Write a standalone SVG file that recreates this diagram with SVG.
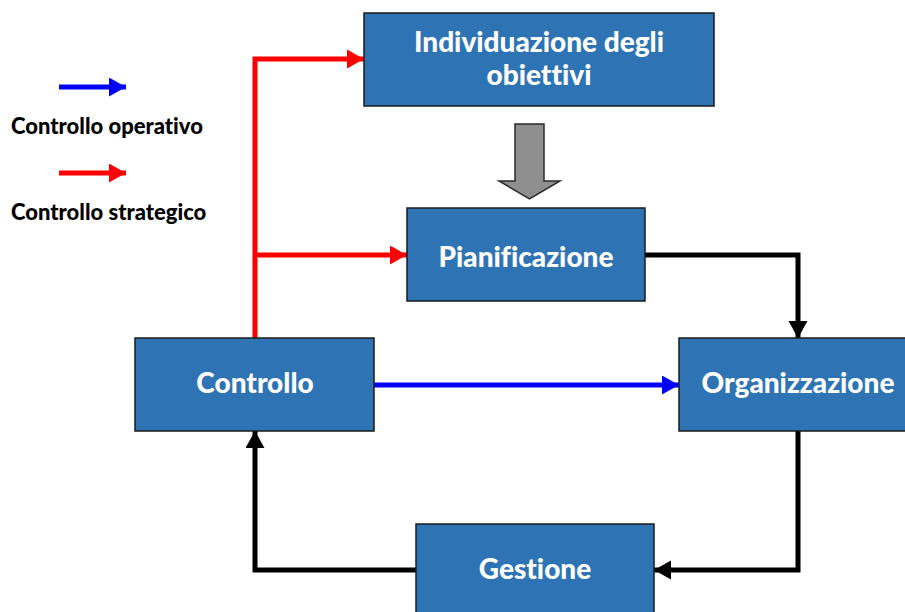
<svg xmlns="http://www.w3.org/2000/svg" width="905" height="612" viewBox="0 0 905 612">
<defs>
<style>
.box{fill:#2E74B5;stroke:#1b1b1b;stroke-width:1.5}
.lbl{font-family:Lato,"Open Sans","DejaVu Sans",sans-serif;font-weight:900;fill:#ffffff;text-anchor:middle;font-variant-ligatures:none;font-size:28px}
.leg{font-family:Lato,"Open Sans","DejaVu Sans",sans-serif;font-weight:900;fill:#000000;font-size:22px;font-variant-ligatures:none}
.red{stroke:#ff0000;stroke-width:5;fill:none}
.blue{stroke:#0000ff;stroke-width:5;fill:none}
.black{stroke:#000000;stroke-width:5;fill:none}
</style>
<marker id="hr" markerUnits="userSpaceOnUse" markerWidth="18" markerHeight="20" refX="17" refY="9.5" orient="auto"><path d="M0,0 L17,9.5 L0,19 Z" fill="#ff0000"/></marker>
<marker id="hb" markerUnits="userSpaceOnUse" markerWidth="18" markerHeight="20" refX="17" refY="9.5" orient="auto"><path d="M0,0 L17,9.5 L0,19 Z" fill="#0000ff"/></marker>
<marker id="hk" markerUnits="userSpaceOnUse" markerWidth="18" markerHeight="20" refX="17" refY="9.5" orient="auto"><path d="M0,0 L17,9.5 L0,19 Z" fill="#000000"/></marker>
</defs>
<rect width="905" height="612" fill="#ffffff"/>
<g id="legend">
<path class="blue" d="M59,87 H126" marker-end="url(#hb)"/>
<text class="leg" x="11" y="134">Controllo operativo</text>
<path class="red" d="M59,173 H126" marker-end="url(#hr)"/>
<text class="leg" x="11" y="220">Controllo strategico</text>
</g>
<g id="connectors">
<path class="red" d="M255,338 V59 H364" marker-end="url(#hr)"/>
<path class="red" d="M255,255 H407" marker-end="url(#hr)"/>
<path class="blue" d="M374,385 H679" marker-end="url(#hb)"/>
<path class="black" d="M645,255 H798 V338" marker-end="url(#hk)"/>
<path class="black" d="M798,431 V570 H654" marker-end="url(#hk)"/>
<path class="black" d="M416,570 H255 V431" marker-end="url(#hk)"/>
<path d="M515,124 H544 V181 H560 L529.5,199 L499,181 H515 Z" fill="#8f8f8f" stroke="#2a2a2a" stroke-width="1.5"/>
</g>
<g id="individuazione">
<rect class="box" x="364" y="13" width="350" height="93"/>
<text class="lbl" x="539" y="52">Individuazione degli</text>
<text class="lbl" x="539" y="85">obiettivi</text>
</g>
<g id="pianificazione">
<rect class="box" x="407" y="208" width="238" height="93"/>
<text class="lbl" x="526" y="267">Pianificazione</text>
</g>
<g id="controllo">
<rect class="box" x="135" y="338" width="239" height="93"/>
<text class="lbl" x="255" y="393">Controllo</text>
</g>
<g id="organizzazione">
<rect class="box" x="679" y="338" width="240" height="93"/>
<text class="lbl" x="798" y="393">Organizzazione</text>
</g>
<g id="gestione">
<rect class="box" x="416" y="524" width="238" height="100"/>
<text class="lbl" x="535" y="579">Gestione</text>
</g>
</svg>
